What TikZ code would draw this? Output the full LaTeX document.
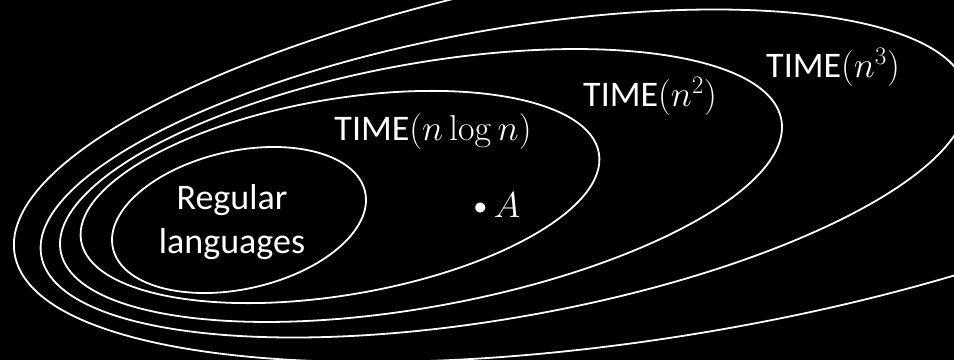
\RequirePackage{fix-cm}
\documentclass[tikz,border=0pt]{standalone}
\usepackage[no-math]{fontspec}
\setmainfont{Carlito}
\begin{document}
\begin{tikzpicture}[x=1pt,y=1pt,
  set/.style={draw=white, line width=1.8pt},
  lbl/.style={text=white, font=\fontsize{36}{44}\selectfont, inner sep=0pt, align=center}]
\useasboundingbox (0,0) rectangle (954,360);
\fill[black] (0,0) rectangle (954,360);
\clip (0,0) rectangle (954,360);
% nested classes
\draw[set, rotate around={9.25:(664,212)}] (664,212) ellipse [x radius=658pt, y radius=188.5pt];
\draw[set, rotate around={10.1:(504,186.5)}] (504,186.5) ellipse [x radius=470pt, y radius=144pt];
\draw[set, rotate around={10.35:(421,174.5)}] (421,174.5) ellipse [x radius=366.3pt, y radius=121.5pt];
\draw[set, rotate around={9.6:(340,163)}] (340,163) ellipse [x radius=262.6pt, y radius=98pt];
\draw[set, rotate around={12.6:(239,140)}] (239,140) ellipse [x radius=129.2pt, y radius=69pt];
% labels
\node[lbl] (reg) at (232,138) {Regular\\languages};
\node[lbl] (nlogn) at (433,229) {TIME$(n\log n)$};
\node[lbl] (n2) at (650,264) {TIME$(n^2)$};
\node[lbl] (n3) at (833,293) {TIME$(n^3)$};
\node[lbl] (a) at (497,155) {\raisebox{3pt}{\fontsize{26}{26}\selectfont$\bullet$}\hspace{7pt}$A$};
\end{tikzpicture}
\end{document}
